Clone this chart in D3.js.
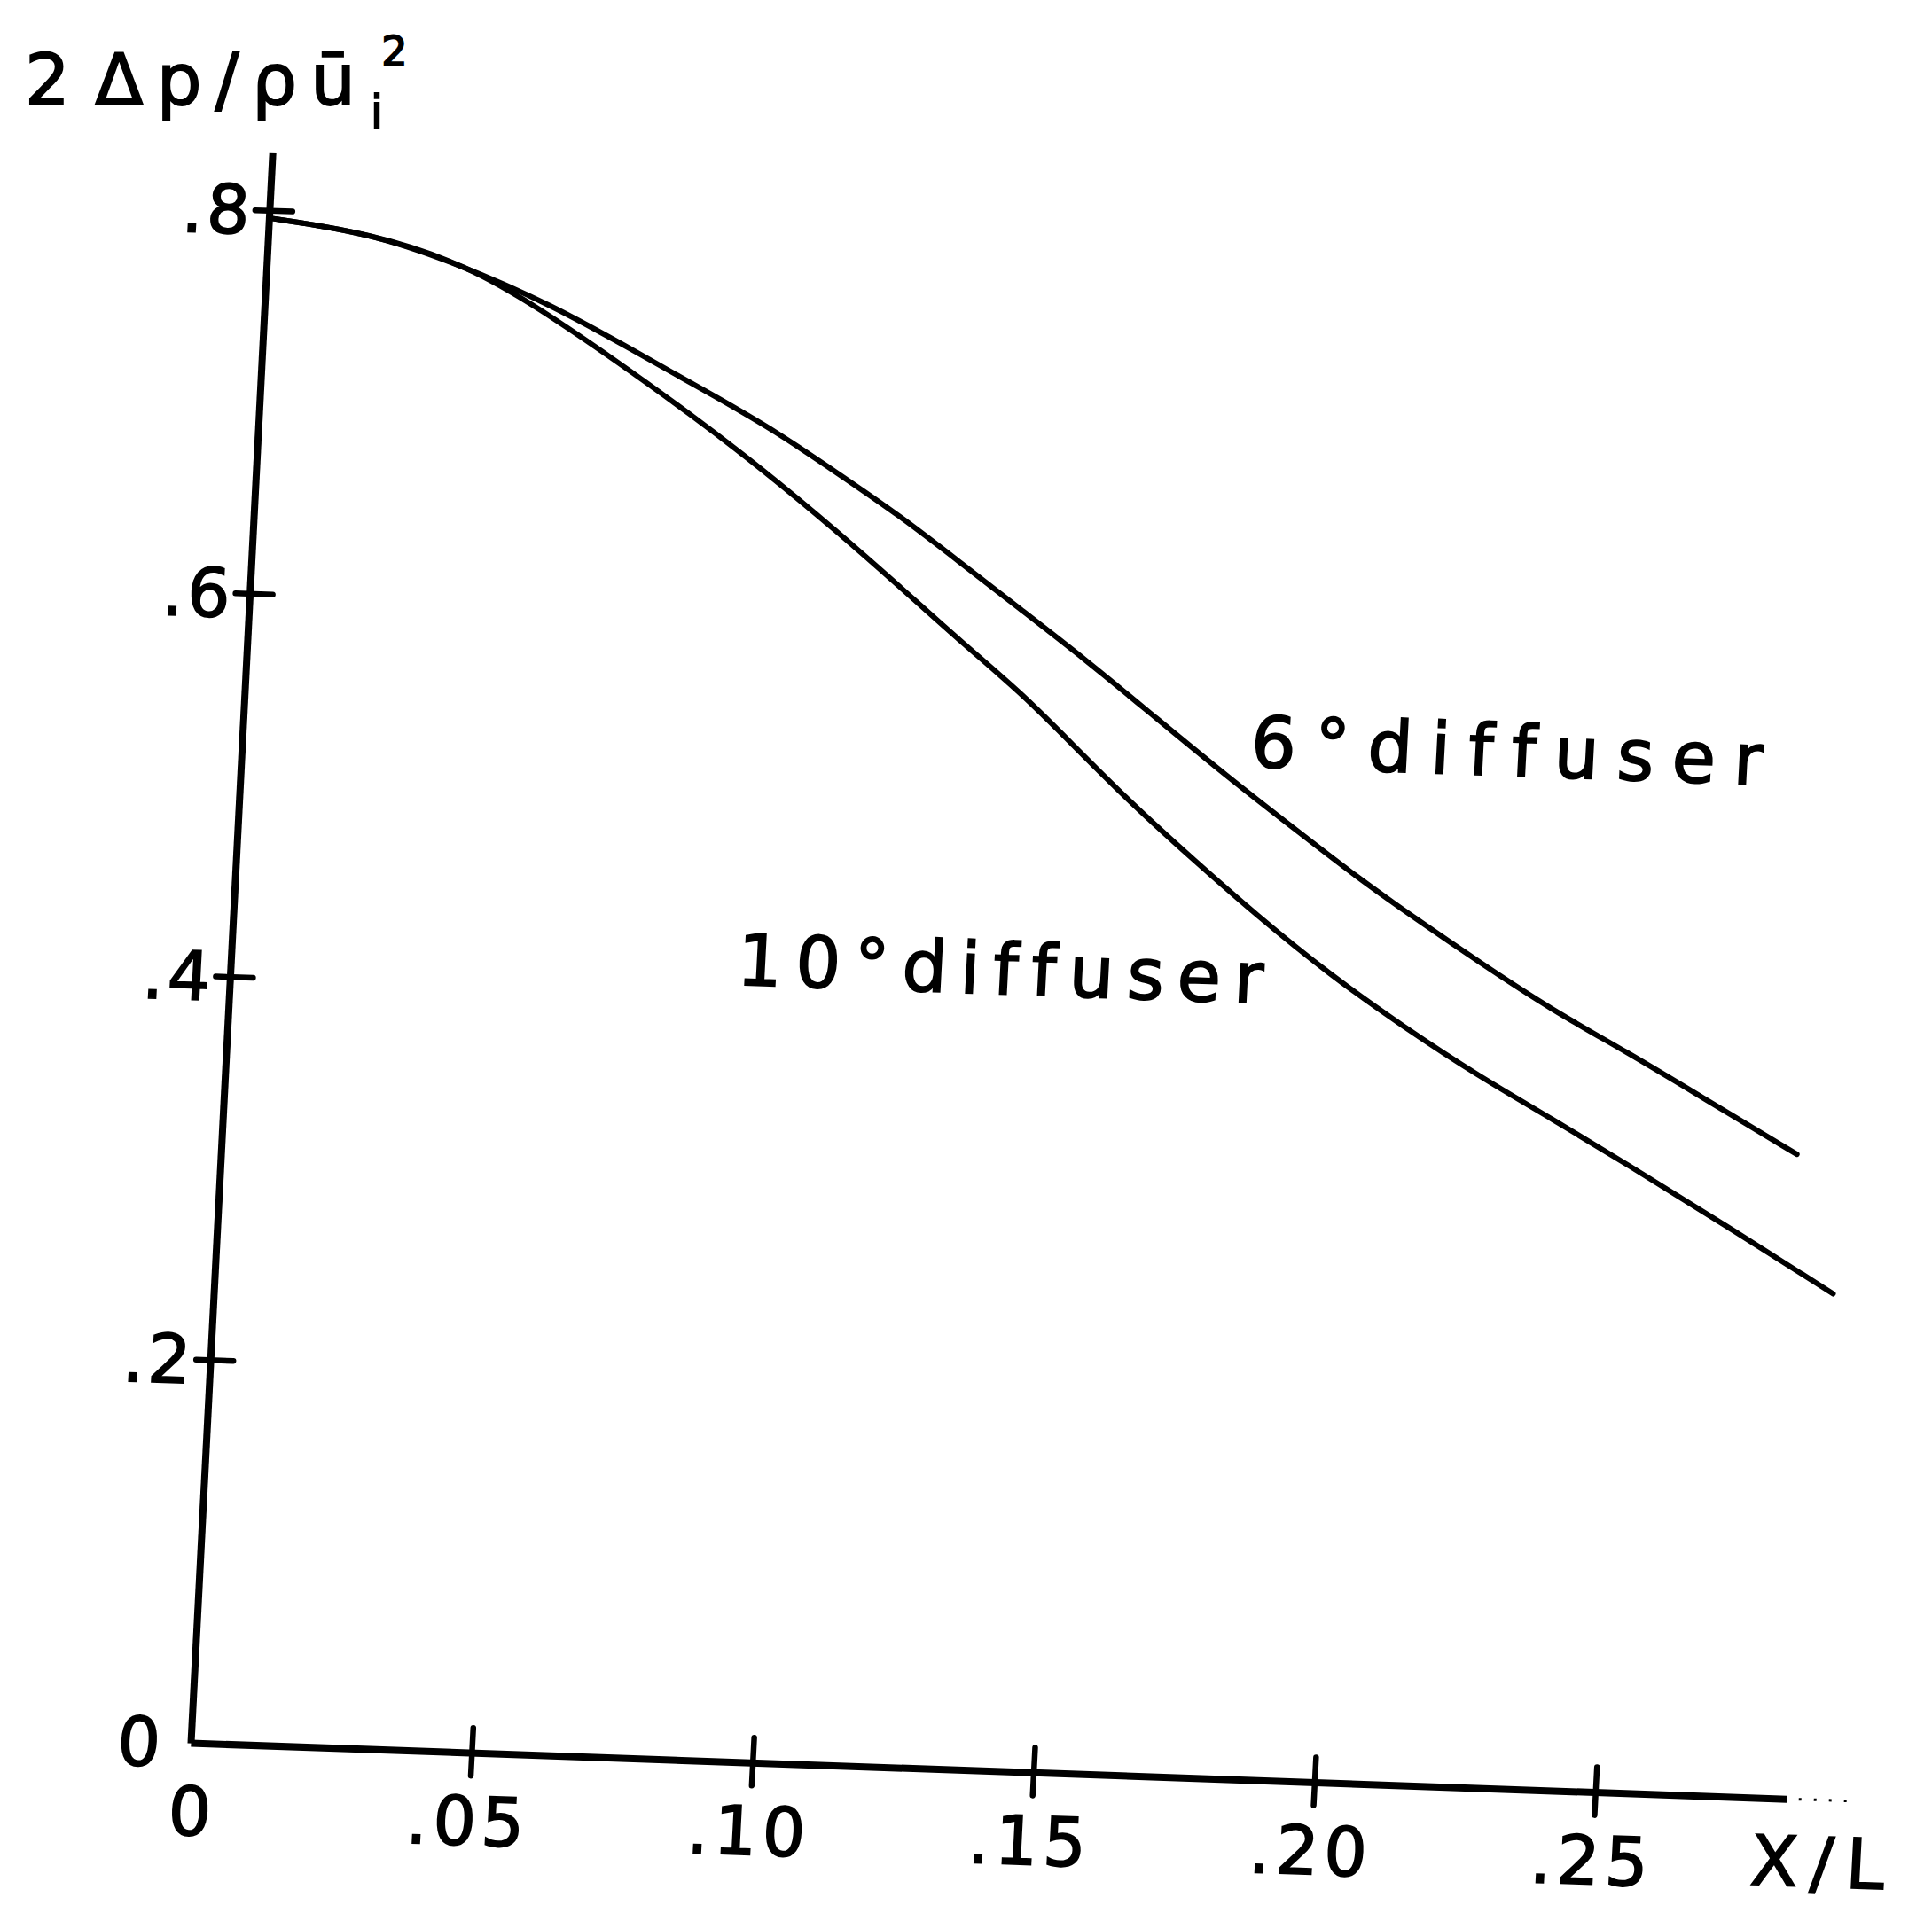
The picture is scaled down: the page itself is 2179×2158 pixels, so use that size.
<!DOCTYPE html>
<html>
<head>
<meta charset="utf-8">
<script src="https://cdn.jsdelivr.net/npm/d3@7"></script>
<style>
  body { margin: 0; background: #fff; }
  text { font-family: "DejaVu Sans", sans-serif; fill: #000; stroke: #000; stroke-width: 1.8;
         font-variant-ligatures: none; font-feature-settings: "liga" 0, "clig" 0; }
</style>
</head>
<body>
<div id="container"></div>
<script>
/* CONSTANTS AND GLOBALS */
const width = 2179,
  height = 2158,
  origin = {x: 215, y: 1966},
  shearX = 0.0351,   // x axis drops as it goes right
  shearY = -0.0514;  // y axis leans right as it goes up

/* DATA */
const xTicks = [0, 0.05, 0.10, 0.15, 0.20, 0.25];
const xTickLabels = ["0", ".05", ".10", ".15", ".20", ".25"];
const yTicks = [0, 0.2, 0.4, 0.6, 0.8];
const yTickLabels = ["0", ".2", ".4", ".6", ".8"];

const sixX = [0, 0.018, 0.0335, 0.051, 0.067, 0.081, 0.092, 0.103, 0.115, 0.126, 0.137, 0.149, 0.162, 0.176, 0.1875, 0.199, 0.210, 0.222, 0.235, 0.249, 0.262, 0.280];
const sixY = [0.796, 0.790, 0.776, 0.756, 0.732, 0.711, 0.694, 0.674, 0.652, 0.629, 0.606, 0.581, 0.552, 0.521, 0.497, 0.473, 0.452, 0.430, 0.407, 0.386, 0.365, 0.336];

const tenX = [0, 0.018, 0.0357, 0.0493, 0.0629, 0.0764, 0.090, 0.1038, 0.1152, 0.1267, 0.1381, 0.1473, 0.1588, 0.1703, 0.1817, 0.1954, 0.2091, 0.2227, 0.2362, 0.2497, 0.2678, 0.2877];
const tenY = [0.796, 0.790, 0.775, 0.753, 0.728, 0.702, 0.674, 0.643, 0.616, 0.588, 0.562, 0.537, 0.506, 0.478, 0.451, 0.421, 0.395, 0.371, 0.350, 0.328, 0.298, 0.264];

const series = [
  {name: "6°diffuser", x: sixX, y: sixY, labelAt: [0.1793, 0.528], labelLen: 577},
  {name: "10°diffuser", x: tenX, y: tenY, labelAt: [0.0900, 0.405], labelLen: 593}
];

/* SCALES */
const xScale = d3.scaleLinear()
  .domain([0, 0.284])
  .range([0, 6337 * 0.284]);

const yScale = d3.scaleLinear()
  .domain([0, 0.83])
  .range([0, -2161 * 0.83]);

/* HTML ELEMENTS */
const svg = d3.select("#container")
  .append("svg")
  .attr("width", width)
  .attr("height", height)
  .style("background-color", "white");

// hand drawn frame is slightly skewed
const g = svg.append("g")
  .attr("transform", `matrix(1,${shearX},${shearY},1,${origin.x},${origin.y})`);

// x axis
const xAxis = d3.axisBottom(xScale)
  .tickValues(xTicks.slice(1))
  .tickSizeOuter(0)
  .tickFormat("");

g.append("g")
  .call(xAxis)
  .call(sel => sel.select(".domain").attr("stroke", "#000").attr("stroke-width", 8))
  .call(sel => sel.selectAll(".tick line")
    .attr("y1", -28).attr("y2", 26)
    .attr("stroke", "#000").attr("stroke-width", 6.5)
    .attr("stroke-linecap", "round"));

// dotted tail of the x axis
g.append("line")
  .attr("x1", xScale(0.284) + 14).attr("x2", xScale(0.284) + 75)
  .attr("y1", 0).attr("y2", 0)
  .attr("stroke", "#000").attr("stroke-width", 3)
  .attr("stroke-dasharray", "3 14");

// y axis
const yAxis = d3.axisLeft(yScale)
  .tickValues(yTicks.slice(1))
  .tickSizeOuter(0)
  .tickFormat("");

g.append("g")
  .call(yAxis)
  .call(sel => sel.select(".domain").attr("stroke", "#000").attr("stroke-width", 8))
  .call(sel => sel.selectAll(".tick line")
    .attr("x1", -16).attr("x2", 26)
    .attr("stroke", "#000").attr("stroke-width", 6.5)
    .attr("stroke-linecap", "round"));

// tick labels
g.selectAll(".xlab")
  .data(xTicks)
  .join("text")
  .attr("class", "xlab")
  .attr("x", d => xScale(d) + (d === 0 ? 6 : 0))
  .attr("y", 104)
  .attr("text-anchor", "middle")
  .attr("font-size", 76)
  .attr("letter-spacing", 6)
  .text((d, i) => xTickLabels[i]);

g.selectAll(".ylab")
  .data(yTicks)
  .join("text")
  .attr("class", "ylab")
  .attr("x", d => d === 0 ? -30 : -18)
  .attr("y", d => yScale(d))
  .attr("dy", "0.36em")
  .attr("text-anchor", "end")
  .attr("font-size", 76)
  .attr("letter-spacing", 4)
  .text((d, i) => yTickLabels[i]);

// curves
const line = d3.line()
  .x(d => xScale(d[0]))
  .y(d => yScale(d[1]))
  .curve(d3.curveBasis);

g.selectAll(".curve")
  .data(series)
  .join("path")
  .attr("class", "curve")
  .attr("d", s => line(s.x.map((v, i) => [v, s.y[i]])))
  .attr("fill", "none")
  .attr("stroke", "#000")
  .attr("stroke-width", 6)
  .attr("stroke-linecap", "round");

g.selectAll(".slab")
  .data(series)
  .join("text")
  .attr("class", "slab")
  .attr("x", s => xScale(s.labelAt[0]))
  .attr("y", s => yScale(s.labelAt[1]))
  .attr("font-size", 80)
  .attr("textLength", s => s.labelLen)
  .attr("lengthAdjust", "spacing")
  .text(s => s.name);

// x axis title
g.append("text")
  .attr("x", xScale(0.2782))
  .attr("y", yScale(-0.0453))
  .attr("font-size", 78)
  .attr("letter-spacing", 14)
  .text("X/L");

// y axis title
const title = svg.append("text")
  .attr("x", 28)
  .attr("y", 118)
  .attr("font-size", 80);
title.append("tspan").text("2");
title.append("tspan").attr("dx", 28).attr("letter-spacing", 15).text("Δp/ρū");
title.append("tspan").attr("font-size", 52).attr("dx", 2).attr("dy", 26).text("i");
title.append("tspan").attr("font-size", 46).attr("dx", -2).attr("dy", -70).text("2");
</script>
</body>
</html>
